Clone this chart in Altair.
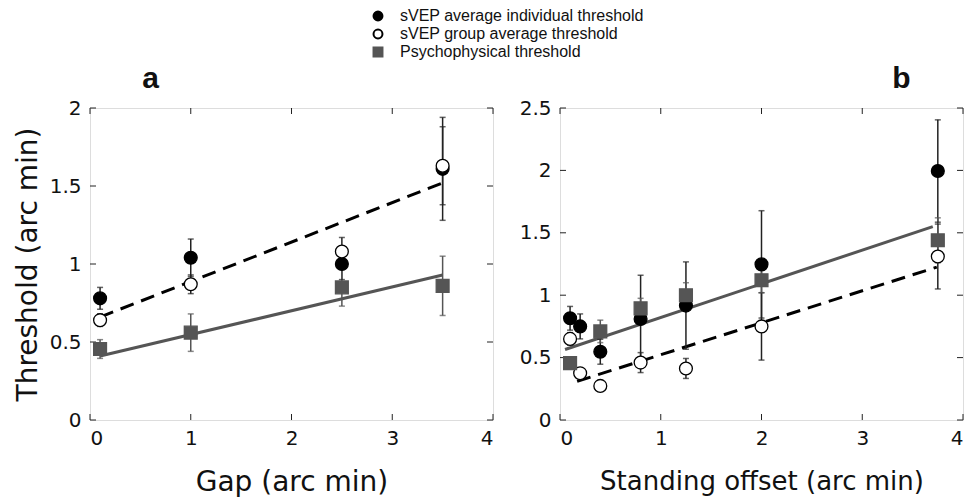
import altair as alt
import pandas as pd

FONT = "Liberation Sans"
AXFONT = "DejaVu Sans"
S_IND = "sVEP average individual threshold"
S_GRP = "sVEP group average threshold"
S_PSY = "Psychophysical threshold"
SERIES = [S_IND, S_GRP, S_PSY]

# ---- Panel a: Gap ----
a_x = [0.1, 1.0, 2.5, 3.5]
a_ind = [0.78, 1.04, 1.00, 1.61]
a_ind_err = [0.07, 0.12, 0.10, 0.33]
a_grp = [0.64, 0.87, 1.08, 1.63]
a_grp_err = [0.04, 0.06, 0.09, 0.25]
a_psy = [0.455, 0.56, 0.85, 0.86]
a_psy_err = [0.06, 0.12, 0.12, 0.19]
a_dash_x = [0.1, 3.54]
a_dash_y = [0.66, 1.53]
a_solid_x = [0.1, 3.5]
a_solid_y = [0.41, 0.93]

# ---- Panel b: Standing offset ----
b_x = [0.1, 0.2, 0.4, 0.8, 1.25, 2.0, 3.75]
b_ind = [0.815, 0.75, 0.547, 0.81, 0.917, 1.247, 1.995]
b_ind_err = [0.095, 0.10, 0.10, 0.35, 0.35, 0.43, 0.41]
b_grp = [0.65, 0.375, 0.273, 0.46, 0.413, 0.75, 1.31]
b_grp_err = [0.05, 0.04, 0.03, 0.08, 0.08, 0.27, 0.26]
b_psy_x = [0.1, 0.4, 0.8, 1.25, 2.0, 3.75]
b_psy = [0.456, 0.71, 0.895, 1.0, 1.12, 1.44]
b_psy_err = [0.04, 0.09, 0.08, 0.10, 0.10, 0.18]
b_solid_x = [0.05, 3.70]
b_solid_y = [0.565, 1.55]
b_dash_x = [0.17, 3.74]
b_dash_y = [0.31, 1.225]

x_ticks = [0, 1, 2, 3, 4]
a_y_ticks = [0, 0.5, 1, 1.5, 2]
b_y_ticks = [0, 0.5, 1, 1.5, 2, 2.5]

W, H = 403, 312
TICK = 6


def points_df(xs_list, ys_list, errs_list, names):
    rows = []
    for xs, ys, errs, n in zip(xs_list, ys_list, errs_list, names):
        for x, y, e in zip(xs, ys, errs):
            rows.append({"x": x, "y": y, "lo": y - e, "hi": y + e, "series": n})
    return pd.DataFrame(rows)


def panel(pts, dash, solid, yticks, ymax, xtitle, ytitle, label, anchor, dx,
          xtitle_size):
    xs = alt.Scale(domain=[0, 4], nice=False, zero=False)
    ys = alt.Scale(domain=[0, ymax], nice=False, zero=False)
    xax = alt.Axis(values=x_ticks, ticks=False, domain=False, grid=False,
                   format="~g",
                   labelFontSize=20, labelPadding=8, titleFontSize=xtitle_size,
                   titleFontWeight="normal", titlePadding=20, labelFont=AXFONT,
                   titleFont=AXFONT, labelColor="#111", titleColor="#111")
    if ytitle:
        yax = alt.Axis(values=yticks, ticks=False, domain=False, grid=False,
                       format="~g",
                       labelFontSize=20, labelPadding=9, titleFontSize=28,
                       titleFontWeight="normal", titlePadding=7, labelFont=AXFONT,
                       titleFont=AXFONT, labelColor="#111", titleColor="#111")
    else:
        yax = alt.Axis(values=yticks, ticks=False, domain=False, grid=False,
                       format="~g",
                       labelFontSize=20, labelPadding=9, labelFont=AXFONT,
                       labelColor="#111", title=None)

    ld = pd.DataFrame({"x": dash[0], "y": dash[1]})
    ls = pd.DataFrame({"x": solid[0], "y": solid[1]})
    dash_line = alt.Chart(ld).mark_line(color="black", strokeWidth=3,
                                        strokeDash=[14, 8]).encode(
        x=alt.X("x:Q", scale=xs, axis=xax, title=xtitle),
        y=alt.Y("y:Q", scale=ys, axis=yax, title=ytitle if ytitle else None))
    solid_line = alt.Chart(ls).mark_line(color="#555", strokeWidth=3).encode(
        x=alt.X("x:Q", scale=xs), y=alt.Y("y:Q", scale=ys))

    circ = pts[pts.series != S_PSY]
    sq = pts[pts.series == S_PSY]
    err_c = alt.Chart(circ).mark_rule(color="#222", strokeWidth=1.5).encode(
        x=alt.X("x:Q", scale=xs), y=alt.Y("lo:Q", scale=ys), y2="hi:Q")
    err_s = alt.Chart(sq).mark_rule(color="#555", strokeWidth=1.5).encode(
        x=alt.X("x:Q", scale=xs), y=alt.Y("lo:Q", scale=ys), y2="hi:Q")
    caps = []
    for d, col in ((circ, "#222"), (sq, "#555")):
        for f in ("lo", "hi"):
            caps.append(alt.Chart(d).mark_tick(color=col, orient="horizontal",
                                               size=6, thickness=1.5).encode(
                x=alt.X("x:Q", scale=xs), y=alt.Y(f + ":Q", scale=ys)))

    pts_layer = alt.Chart(pts).mark_point(filled=True, opacity=1, size=165,
                                          strokeWidth=1.3).encode(
        x=alt.X("x:Q", scale=xs), y=alt.Y("y:Q", scale=ys),
        shape=alt.Shape("series:N", scale=alt.Scale(domain=SERIES,
                        range=["circle", "circle", "square"]), legend=alt.Legend(
            title=None, orient="none", legendX=280, legendY=-100,
            labelFont=FONT, labelFontSize=16, labelColor="#111", labelLimit=0,
            symbolSize=80, symbolStrokeWidth=2, rowPadding=0, labelOffset=14,
            padding=0)),
        fill=alt.Fill("series:N", scale=alt.Scale(domain=SERIES,
                      range=["black", "white", "#555"]), legend=None),
        stroke=alt.Stroke("series:N", scale=alt.Scale(domain=SERIES,
                          range=["black", "black", "#555"]), legend=None),
    )

    xt = pd.DataFrame({"v": x_ticks})
    yt = pd.DataFrame({"v": yticks})
    tk = dict(color="#222", strokeWidth=1)
    ticks = [
        alt.Chart(xt).mark_rule(**tk).encode(x=alt.X("v:Q", scale=xs),
                                             y=alt.value(H), y2=alt.value(H - TICK)),
        alt.Chart(xt).mark_rule(**tk).encode(x=alt.X("v:Q", scale=xs),
                                             y=alt.value(0), y2=alt.value(TICK)),
        alt.Chart(yt).mark_rule(**tk).encode(y=alt.Y("v:Q", scale=ys),
                                             x=alt.value(0), x2=alt.value(TICK)),
        alt.Chart(yt).mark_rule(**tk).encode(y=alt.Y("v:Q", scale=ys),
                                             x=alt.value(W), x2=alt.value(W - TICK)),
    ]
    return alt.layer(dash_line, solid_line, *ticks, err_c, err_s, *caps,
                     pts_layer).properties(
        width=W, height=H,
        title=alt.TitleParams(label, anchor=anchor, dx=dx, fontSize=30,
                              fontWeight="bold", font=FONT, offset=4,
                              color="#111"))


pa = points_df([a_x, a_x, a_x], [a_ind, a_grp, a_psy],
               [a_ind_err, a_grp_err, a_psy_err], SERIES)
pb = points_df([b_x, b_x, b_psy_x], [b_ind, b_grp, b_psy],
               [b_ind_err, b_grp_err, b_psy_err], SERIES)

ca = panel(pa, (a_dash_x, a_dash_y), (a_solid_x, a_solid_y), a_y_ticks, 2,
           "Gap (arc min)", "Threshold (arc min)", "a", "start", 128, 28)
cb = panel(pb, (b_dash_x, b_dash_y), (b_solid_x, b_solid_y), b_y_ticks, 2.5,
           "Standing offset (arc min)", None, "b", "end", -53, 26)

chart = alt.hconcat(ca, cb, spacing=24).properties(
    padding={"left": 5, "top": 0, "right": 5, "bottom": 0}
).configure_view(stroke="#222", strokeWidth=1.5).configure(background="white")

chart.save("out.html", embed_options={"renderer": "svg", "actions": False})
